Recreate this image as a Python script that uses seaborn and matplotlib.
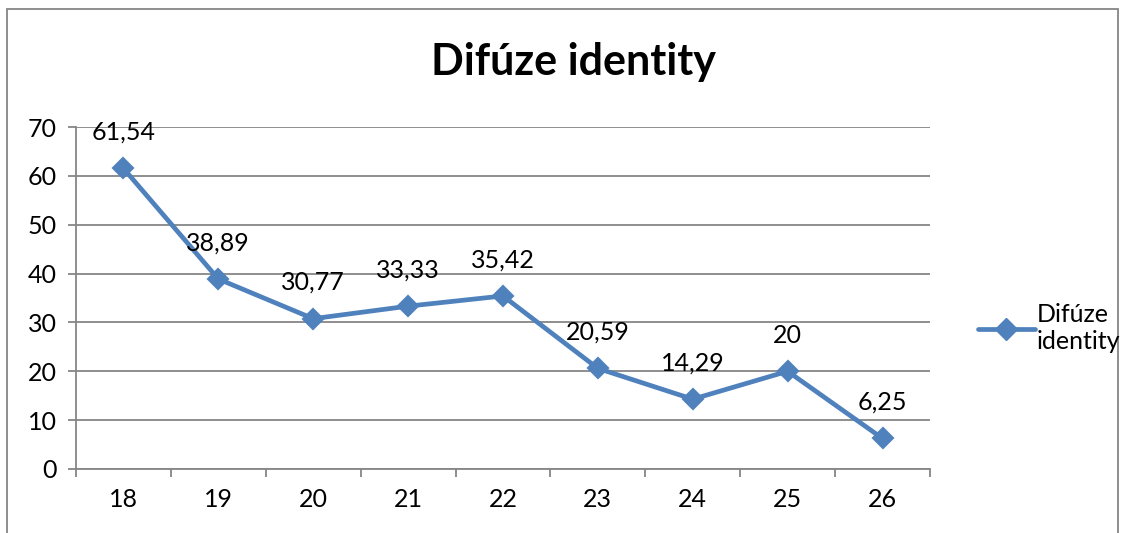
import pandas as pd
import matplotlib.pyplot as plt
import seaborn as sns
from matplotlib.patches import Rectangle
from matplotlib.lines import Line2D

ages = ['18', '19', '20', '21', '22', '23', '24', '25', '26']
values = [61.54, 38.89, 30.77, 33.33, 35.42, 20.59, 14.29, 20, 6.25]
value_labels = ['61,54', '38,89', '30,77', '33,33', '35,42', '20,59', '14,29', '20', '6,25']
series_name = 'Difúze identity'

line_color = '#4F81BD'
grid_color = '#868686'

sns.set_style('white')
plt.rcParams['font.family'] = ['Lato', 'DejaVu Sans']
plt.rcParams['text.color'] = 'black'

df = pd.DataFrame({'age': ages, 'value': values})

fig = plt.figure(figsize=(11.29, 5.33), dpi=100)
ax = fig.add_axes([0.0673, 0.1201, 0.8237 - 0.0673, 0.7617 - 0.1201])

sns.pointplot(data=df, x='age', y='value', color=line_color, markers='D',
              markersize=9, linewidth=3.4, ax=ax, errorbar=None)

for i, (v, lab) in enumerate(zip(values, value_labels)):
    ax.annotate(lab, (i, v), xytext=(0, 26), textcoords='offset points',
                ha='center', va='center', fontsize=18, color='black')

ax.set_xlim(-0.5, len(ages) - 0.5)
ax.set_ylim(0, 70)
ax.set_yticks(range(0, 71, 10))
ax.set_xlabel('')
ax.set_ylabel('')

ax.grid(axis='y', color=grid_color, linewidth=1.3)
ax.set_axisbelow(True)
for side in ['top', 'right']:
    ax.spines[side].set_visible(False)
for side in ['left', 'bottom']:
    ax.spines[side].set_color(grid_color)
    ax.spines[side].set_linewidth(1.3)

ax.set_xticks([i - 0.5 for i in range(len(ages) + 1)], minor=True)
ax.tick_params(axis='x', which='major', length=0, pad=14, labelsize=18,
               labelcolor='black')
ax.tick_params(axis='x', which='minor', length=6, width=1.3, color=grid_color,
               direction='out', bottom=True)
ax.tick_params(axis='y', which='major', length=6, width=1.3, color=grid_color,
               direction='out', left=True, pad=8, labelsize=18, labelcolor='black')

fig.text(0.508, 0.883, series_name, ha='center', va='center',
         fontsize=31, fontweight='bold', color='black')

handle = Line2D([], [], color=line_color, marker='D', markersize=11, linewidth=3.4)
fig.legend([handle], ['Difúze\nidentity'], loc='center left',
           bbox_to_anchor=(0.846, 0.385), frameon=False, fontsize=18,
           handlelength=2.3, handletextpad=0.05, labelcolor='black')

fig.patches.append(Rectangle((0.0062, -0.02), 0.9903 - 0.0062, 0.9831 + 0.02,
                             transform=fig.transFigure, fill=False,
                             edgecolor=grid_color, linewidth=1.3))

fig.savefig('out.png', dpi=100, facecolor='white')
